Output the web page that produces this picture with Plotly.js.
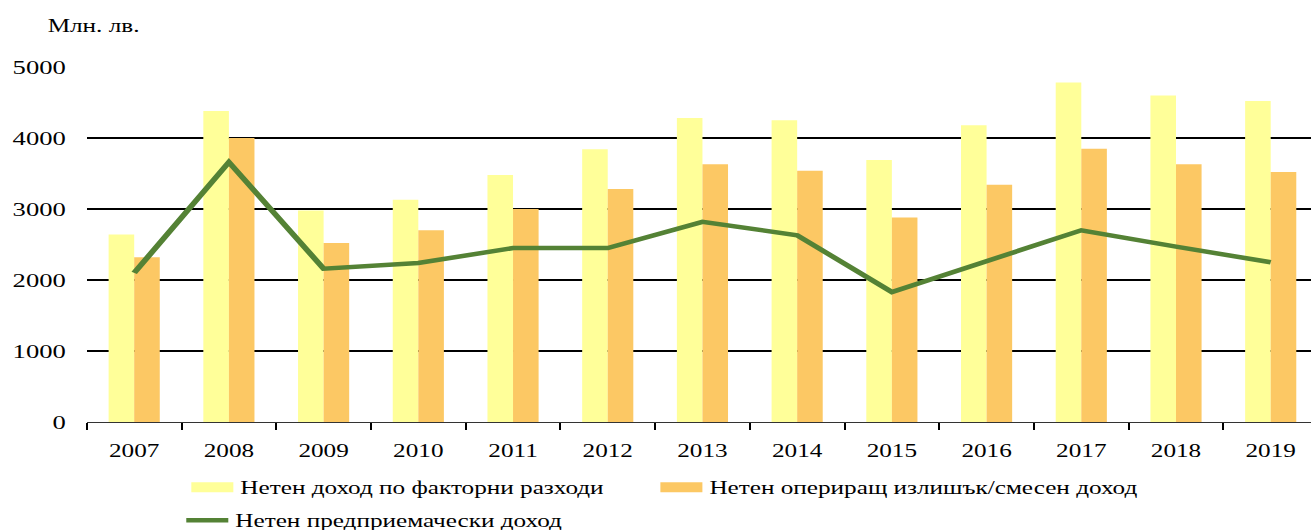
<!DOCTYPE html>
<html>
<head>
<meta charset="utf-8">
<script src="https://cdn.plot.ly/plotly-3.0.1.min.js"></script>
<style>
  html, body { margin: 0; padding: 0; background: #fff; overflow: hidden; }
  #wrap { width: 1311px; height: 530px; overflow: hidden; }
  #chart { width: 936px; height: 530px; transform: scaleX(1.4006); transform-origin: 0 0; }
</style>
</head>
<body>
<div id="wrap"><div id="chart"></div></div>
<script>
// Data (million BGN)
const years = ["2007","2008","2009","2010","2011","2012","2013","2014","2015","2016","2017","2018","2019"];
const netFactorIncome = [2640, 4380, 2980, 3130, 3480, 3840, 4280, 4250, 3690, 4180, 4780, 4600, 4520];
const netOperatingSurplus = [2320, 4000, 2520, 2700, 3000, 3280, 3630, 3540, 2880, 3340, 3850, 3630, 3520];
const netEntrepreneurialIncome = [2100, 3660, 2160, 2240, 2450, 2450, 2820, 2630, 1830, 2260, 2700, 2470, 2250];

const seriesNames = [
  "Нетен доход по факторни разходи",
  "Нетен опериращ излишък/смесен доход",
  "Нетен предприемачески доход"
];
const yellow = "#FFFF99";
const orange = "#FCC864";
const green = "#548235";

const traces = [
  { type: "bar", x: years, y: netFactorIncome, name: seriesNames[0], legendgroup: "a",
    marker: { color: yellow }, showlegend: false },
  { type: "bar", x: years, y: netOperatingSurplus, name: seriesNames[1], legendgroup: "b",
    marker: { color: orange }, showlegend: false },
  // legend entries drawn as wide rectangles (like the reference)
  { type: "scatter", mode: "lines", x: [null], y: [null], name: seriesNames[0], legendgroup: "a",
    legend: "legend", line: { color: yellow, width: 10 }, hoverinfo: "skip" },
  { type: "scatter", mode: "lines", x: [null], y: [null], name: seriesNames[1], legendgroup: "b",
    legend: "legend2", line: { color: orange, width: 10 }, hoverinfo: "skip" },
  { type: "scatter", mode: "lines", x: years, y: netEntrepreneurialIncome, name: seriesNames[2],
    legend: "legend3", line: { color: green, width: 4.5 } }
];

const font = { family: "'Liberation Serif', 'Times New Roman', serif", color: "#000" };

function legendAt(xPx, yPx) {
  return {
    orientation: "h", xref: "container", yref: "container",
    x: xPx / 936, xanchor: "left", y: 1 - yPx / 530, yanchor: "top",
    font: Object.assign({ size: 18 }, font),
    bgcolor: "rgba(0,0,0,0)"
  };
}

const layout = {
  width: 936, height: 530,
  margin: { l: 62, r: 0, t: 67, b: 107.5 },
  paper_bgcolor: "#fff", plot_bgcolor: "#fff",
  font: Object.assign({ size: 18 }, font),
  barmode: "group", bargap: 0.46, bargroupgap: 0,
  showlegend: true,
  legend: legendAt(131.6, 469),
  legend2: legendAt(466.5, 469),
  legend3: legendAt(128, 502),
  xaxis: {
    type: "category", range: [-0.5, 12.425],
    showline: true, linecolor: "#333", linewidth: 1.2,
    ticks: "outside", tickson: "boundaries", ticklen: 7, tickwidth: 1.4, tickcolor: "#000",
    ticklabelstandoff: 12,
    showgrid: false, zeroline: false,
    tickfont: Object.assign({ size: 18 }, font),
    fixedrange: true
  },
  yaxis: {
    range: [0, 5000], tickvals: [0, 1000, 2000, 3000, 4000, 5000],
    showgrid: true, gridcolor: "#000", gridwidth: 2,
    zeroline: false, showline: false, ticks: "",
    ticklabelstandoff: 14,
    tickfont: Object.assign({ size: 19 }, font),
    fixedrange: true
  },
  annotations: [{
    text: "Млн. лв.", xref: "paper", yref: "paper",
    x: (32 - 62) / 874, xanchor: "left", y: (422.5 - 26) / 355.5, yanchor: "middle",
    showarrow: false, font: Object.assign({ size: 18 }, font)
  }]
};

Plotly.newPlot("chart", traces, layout, { displayModeBar: false, staticPlot: true });
</script>
</body>
</html>
